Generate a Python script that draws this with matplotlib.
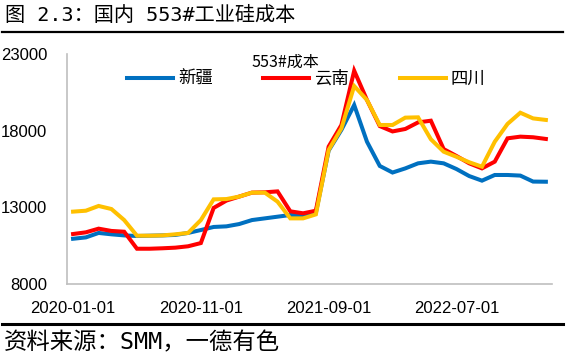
import numpy as np
import pandas as pd
import matplotlib
matplotlib.use("Agg")
import matplotlib.pyplot as plt
from matplotlib.lines import Line2D

plt.rcParams['font.family'] = ['Noto Sans CJK SC', 'DejaVu Sans']

# monthly categories 2020-01 .. 2023-02
months = pd.date_range('2020-01-01', '2023-02-01', freq='MS').strftime('%Y-%m-%d').tolist()
tick_labels = ['2020-01-01', '2020-11-01', '2021-09-01', '2022-07-01']

xinjiang = [10950, 11040, 11330, 11240, 11170, 11130, 11150, 11170, 11200, 11330,
            11520, 11720, 11760, 11910, 12170, 12280, 12390, 12500, 12500, 12650,
            16700, 18050, 19670, 17280, 15700, 15270, 15540, 15870, 15980, 15870,
            15500, 15040, 14740, 15110, 15110, 15070, 14680, 14670]
yunnan = [11260, 11370, 11610, 11460, 11410, 10300, 10300, 10330, 10370, 10460,
          10670, 12960, 13440, 13700, 13960, 13980, 14040, 12740, 12610, 12780,
          16960, 18370, 21910, 20000, 18300, 17950, 18110, 18540, 18650, 16800,
          16350, 15870, 15540, 15980, 17500, 17610, 17570, 17460]
sichuan = [12720, 12780, 13090, 12890, 12170, 11150, 11150, 11170, 11240, 11330,
           12170, 13520, 13540, 13700, 13960, 13960, 13370, 12280, 12280, 12540,
           16740, 18150, 20910, 20000, 18370, 18370, 18850, 18870, 17440, 16630,
           16300, 15940, 15650, 17280, 18440, 19170, 18800, 18700]

series = [('新疆', xinjiang, '#0070C0'),
          ('云南', yunnan, '#FF0000'),
          ('四川', sichuan, '#FFC000')]

fig = plt.figure(figsize=(5.67, 3.6), dpi=100)
ax = fig.add_axes([0.1176, 0.2111, 0.8564, 0.6389])

x = np.arange(len(months))
for name, vals, color in series:
    ax.plot(x, vals, color=color, lw=2.9, label=name, solid_joinstyle='miter')

ax.set_xlim(-0.5, len(months) - 0.5)
ax.set_ylim(8000, 23000)
ax.set_yticks([8000, 13000, 18000, 23000])
ax.set_xticks([months.index(t) for t in tick_labels])
ax.set_xticklabels(tick_labels, family='Liberation Sans', fontsize=12)
for lab in ax.get_yticklabels():
    lab.set_family('Liberation Sans')
    lab.set_fontsize(12)
ax.tick_params(length=0, pad=12)
ax.tick_params(axis='y', pad=14)
for s in ['top', 'right']:
    ax.spines[s].set_visible(False)
for s in ['left', 'bottom']:
    ax.spines[s].set_color('#BFBFBF')
    ax.spines[s].set_linewidth(1.2)

leg = ax.legend(loc='center left', bbox_to_anchor=(0.124, 0.893), ncol=3, frameon=False,
                fontsize=12.5, handlelength=2.65, handletextpad=0.3,
                columnspacing=2.9, borderaxespad=0, borderpad=0)
ax.text(0.45, 1.0, '553#成本', transform=ax.transAxes, ha='center', va='top',
        fontsize=11.5)

# header and footer
mixed = ['DejaVu Sans Mono', 'Noto Sans CJK SC']
fig.text(0.009, 0.958, '图 2.3：国内 553#工业硅成本', ha='left', va='center',
         fontsize=14.5, family=mixed)
fig.add_artist(Line2D([0.004, 0.993], [0.911, 0.911], color='black', lw=1.6))
fig.add_artist(Line2D([0.004, 0.993], [0.1, 0.1], color='black', lw=2.2))
fig.text(0.007, 0.047, '资料来源：SMM，一德有色', ha='left', va='center',
         fontsize=16.8, family=mixed)

fig.savefig('out.png', dpi=100)
